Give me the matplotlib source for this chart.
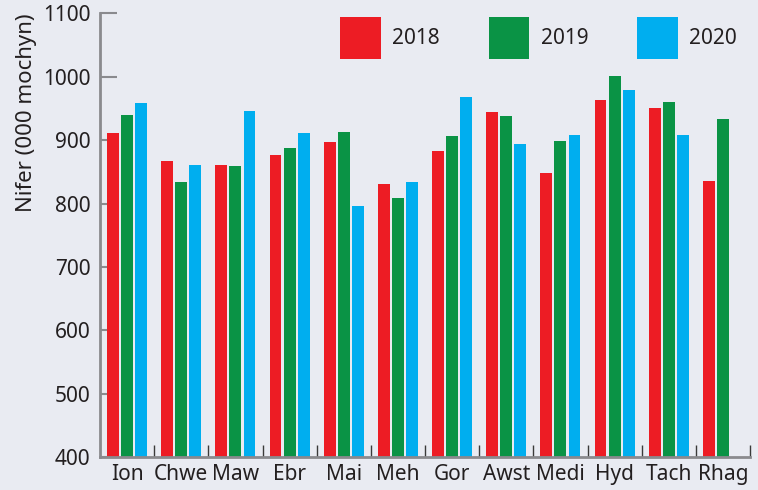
import numpy as np
import matplotlib
matplotlib.use('Agg')
import matplotlib.pyplot as plt
from matplotlib.patches import Patch

# data (thousands of pigs per area and year)
areas = ['Ion', 'Chwe', 'Maw', 'Ebr', 'Mai', 'Meh', 'Gor', 'Awst', 'Medi', 'Hyd', 'Tach', 'Rhag']
years = ['2018', '2019', '2020']
vals_2018 = [911, 867, 861, 876, 897, 831, 883, 944, 848, 963, 951, 836]
vals_2019 = [940, 834, 859, 888, 913, 809, 907, 938, 899, 1001, 960, 933]
vals_2020 = [958, 861, 946, 911, 796, 834, 968, 894, 908, 979, 908, np.nan]

colors = ['#ED1C24', '#0A9345', '#00AEEF']
bg = '#E9EBF2'
txt = '#231F20'

plt.rcParams['font.family'] = ['Noto Sans', 'DejaVu Sans']
plt.rcParams['font.size'] = 15

fig = plt.figure(figsize=(7.58, 4.9), dpi=100, facecolor=bg)
ax = fig.add_axes([100/758, 1 - 457.3/490, 650/758, 444/490], facecolor=bg)

x = np.arange(len(areas))
width = 0.22
step = 0.26
for i, series in enumerate([vals_2018, vals_2019, vals_2020]):
    ax.bar(x + (i - 1) * step, series, width, color=colors[i], bottom=0, zorder=2)

ax.set_xlim(-0.5, len(areas) - 0.5)
ax.set_ylim(400, 1100)
ax.set_yticks(np.arange(400, 1101, 100))

# ticks on the group boundaries, labels at group centres
ax.set_xticks(np.arange(0.5, len(areas), 1.0))
ax.set_xticklabels([])
ax.set_xticks(x, minor=True)
ax.set_xticklabels(areas, minor=True)
ax.tick_params(axis='x', which='major', direction='in', length=8.5, width=1, color='#3a3a3a')
ax.tick_params(axis='x', which='minor', length=0, pad=5, labelcolor=txt)
ax.tick_params(axis='y', direction='in', length=12.5, width=1.5, color='#8a8a8e', pad=7, labelcolor=txt)

for s in ['top', 'right']:
    ax.spines[s].set_visible(False)
for s in ['left', 'bottom']:
    ax.spines[s].set_color('#8a8a8e')
    ax.spines[s].set_linewidth(2)

ax.set_ylabel('Nifer (000 mochyn)', color=txt, labelpad=4, loc='top', fontsize=16)

handles = [Patch(facecolor=c, edgecolor='none') for c in colors]
fig.legend(handles, years, ncol=3, frameon=False, loc='upper left',
           bbox_to_anchor=(340/758, 1 - 17/490), borderpad=0, borderaxespad=0,
           handlelength=1.95, handleheight=2.7, handletextpad=0.55,
           columnspacing=2.35, labelcolor=txt)

fig.savefig('out.png', dpi=100, facecolor=bg)
